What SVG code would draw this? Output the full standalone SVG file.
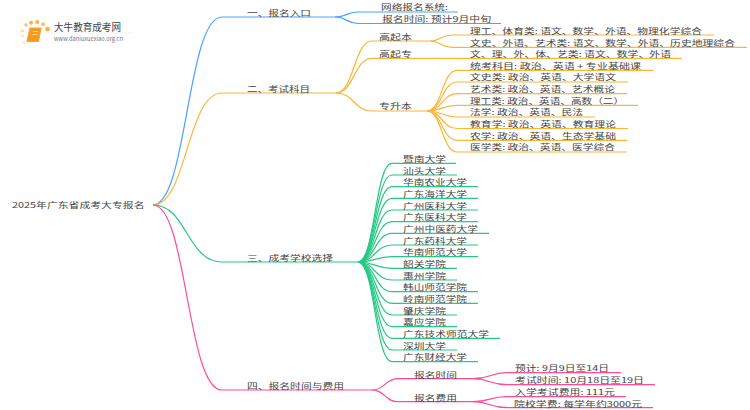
<svg xmlns="http://www.w3.org/2000/svg" width="750" height="410" viewBox="0 0 750 410">
<style>
text{font-family:"Noto Sans CJK SC","Noto Sans",sans-serif;font-size:8px;fill:#444}
path{fill:none;stroke-width:1.2}
.b{stroke:#4aa3ff}.o{stroke:#fdb535}.g{stroke:#25c985}.p{stroke:#ff4a97}
</style>
<g id="logo">
<circle cx="26" cy="25" r="1.7" fill="#fbc46a"/><circle cx="31" cy="22.7" r="2" fill="#f9b23c"/><circle cx="37.300" cy="22" r="2" fill="#f9b23c"/><circle cx="43" cy="24.300" r="2" fill="#fbc46a"/><circle cx="47.500" cy="29" r="2.300" fill="#f9b23c"/><circle cx="22.500" cy="31" r="1.300" fill="#fbd089"/><circle cx="22.700" cy="36" r="1.100" fill="#fbd089"/><circle cx="24" cy="42.500" r="0.900" fill="#fbd089"/>
<path d="M30 28H41L38.500 41.500H27Z" style="fill:#f59a1e;stroke:#f5a838"/>
<path d="M33 31.500H38M32.500 34.500H37.500" style="stroke:#ffe2a8;stroke-width:0.800"/>
<path d="M45 33H133" style="stroke:#eeeeee;stroke-width:0.800"/>
<text x="54" y="31" textLength="67" lengthAdjust="spacingAndGlyphs" style="font-size:10px">大牛教育成考网</text>
<text x="54" y="41" textLength="69" lengthAdjust="spacingAndGlyphs" style="font-size:6px;fill:#777">www.daniuxuexiao.org.cn</text>
</g>
<g id="connectors">
<path class="b" d="M153 205C187 205 187 17 222 17H335C347 17 347 12 358 12H458"/>
<path class="b" d="M335 17C347 17 347 23.500 358 23.500H501"/>
<path class="o" d="M153 205C187 205 187 93 222 93H336C354 93 354 41 372 41H430C441 41 441 35 452 35H714"/>
<path class="o" d="M430 41C441 41 441 47.300 452 47.300H747"/>
<path class="o" d="M336 93C354 93 354 58.300 372 58.300H682"/>
<path class="o" d="M336 93C354 93 354 111 372 111H427C442 111 442 70.300 457 70.300H653"/>
<path class="o" d="M427 111C442 111 442 82 457 82H628"/>
<path class="o" d="M427 111C442 111 442 93.700 457 93.700H627"/>
<path class="o" d="M427 111C442 111 442 105.300 457 105.300H638"/>
<path class="o" d="M427 111C442 111 442 117 457 117H595"/>
<path class="o" d="M427 111C442 111 442 128.500 457 128.500H628"/>
<path class="o" d="M427 111C442 111 442 140.300 457 140.300H627"/>
<path class="o" d="M427 111C442 111 442 152 457 152H627"/>
<path class="g" d="M153 205C187 205 187 262 222 262H358C375 262 375 163.300 392 163.300H456"/>
<path class="g" d="M358 262C375 262 375 175 392 175H457"/>
<path class="g" d="M358 262C375 262 375 186.700 392 186.700H478"/>
<path class="g" d="M358 262C375 262 375 198.300 392 198.300H478"/>
<path class="g" d="M358 262C375 262 375 210 392 210H478"/>
<path class="g" d="M358 262C375 262 375 221.700 392 221.700H478"/>
<path class="g" d="M358 262C375 262 375 233.300 392 233.300H489"/>
<path class="g" d="M358 262C375 262 375 245 392 245H478"/>
<path class="g" d="M358 262C375 262 375 256.700 392 256.700H478"/>
<path class="g" d="M358 262C375 262 375 268.300 392 268.300H457"/>
<path class="g" d="M358 262C375 262 375 280 392 280H457"/>
<path class="g" d="M358 262C375 262 375 291.700 392 291.700H478"/>
<path class="g" d="M358 262C375 262 375 303.300 392 303.300H478"/>
<path class="g" d="M358 262C375 262 375 315 392 315H457"/>
<path class="g" d="M358 262C375 262 375 326.700 392 326.700H457"/>
<path class="g" d="M358 262C375 262 375 338.300 392 338.300H500"/>
<path class="g" d="M358 262C375 262 375 350 392 350H457"/>
<path class="g" d="M358 262C375 262 375 361.700 392 361.700H478"/>
<path class="p" d="M153 205C187 205 187 390 222 390H372C385 390 385 378.700 398 378.700H473C490 378.700 490 372.700 507 372.700H621"/>
<path class="p" d="M473 378.700C490 378.700 490 384.700 507 384.700H655"/>
<path class="p" d="M372 390C385 390 385 401.700 398 401.700H473C490 401.700 490 396.700 507 396.700H626"/>
<path class="p" d="M473 401.700C490 401.700 490 407.700 507 407.700H653"/>
</g>
<g id="root"><text x="12" y="208" textLength="132.500" lengthAdjust="spacingAndGlyphs">2025年广东省成考大专报名</text></g>
<g id="n1"><text x="247" y="16" textLength="64" lengthAdjust="spacingAndGlyphs">一、报名入口</text></g>
<g id="n1-1"><text x="381" y="10" textLength="67" lengthAdjust="spacingAndGlyphs">网络报名系统:</text></g>
<g id="n1-2"><text x="382" y="22" textLength="109" lengthAdjust="spacingAndGlyphs">报名时间: 预计9月中旬</text></g>
<g id="n2"><text x="247" y="92" textLength="63" lengthAdjust="spacingAndGlyphs">二、考试科目</text></g>
<g id="n2-1"><text x="379" y="40" textLength="33" lengthAdjust="spacingAndGlyphs">高起本</text></g>
<g id="n2-1-1"><text x="470" y="34" textLength="232" lengthAdjust="spacingAndGlyphs">理工、体育类: 语文、数学、外语、物理化学综合</text></g>
<g id="n2-1-2"><text x="470" y="46" textLength="265" lengthAdjust="spacingAndGlyphs">文史、外语、艺术类: 语文、数学、外语、历史地理综合</text></g>
<g id="n2-2"><text x="379" y="57" textLength="33" lengthAdjust="spacingAndGlyphs">高起专</text></g>
<g id="n2-2-1"><text x="470" y="57" textLength="201" lengthAdjust="spacingAndGlyphs">文、理、外、体、艺类: 语文、数学、外语</text></g>
<g id="n2-3"><text x="379" y="109" textLength="33" lengthAdjust="spacingAndGlyphs">专升本</text></g>
<g id="n2-3-1"><text x="470" y="68.500" textLength="171" lengthAdjust="spacingAndGlyphs">统考科目: 政治、英语 + 专业基础课</text></g>
<g id="n2-3-2"><text x="470" y="80" textLength="146" lengthAdjust="spacingAndGlyphs">文史类: 政治、英语、大学语文</text></g>
<g id="n2-3-3"><text x="470" y="92" textLength="145" lengthAdjust="spacingAndGlyphs">艺术类: 政治、英语、艺术概论</text></g>
<g id="n2-3-4"><text x="470" y="103.700" textLength="154" lengthAdjust="spacingAndGlyphs">理工类: 政治、英语、高数（二）</text></g>
<g id="n2-3-5"><text x="470" y="115.300" textLength="113" lengthAdjust="spacingAndGlyphs">法学: 政治、英语、民法</text></g>
<g id="n2-3-6"><text x="470" y="127" textLength="146" lengthAdjust="spacingAndGlyphs">教育学: 政治、英语、教育理论</text></g>
<g id="n2-3-7"><text x="470" y="138.700" textLength="146" lengthAdjust="spacingAndGlyphs">农学: 政治、英语、生态学基础</text></g>
<g id="n2-3-8"><text x="470" y="150.300" textLength="145" lengthAdjust="spacingAndGlyphs">医学类: 政治、英语、医学综合</text></g>
<g id="n3"><text x="247" y="261" textLength="86" lengthAdjust="spacingAndGlyphs">三、成考学校选择</text></g>
<g id="s1"><text x="403" y="162" textLength="43" lengthAdjust="spacingAndGlyphs">暨南大学</text></g>
<g id="s2"><text x="403" y="173.700" textLength="43" lengthAdjust="spacingAndGlyphs">汕头大学</text></g>
<g id="s3"><text x="403" y="185.300" textLength="64" lengthAdjust="spacingAndGlyphs">华南农业大学</text></g>
<g id="s4"><text x="403" y="197" textLength="64" lengthAdjust="spacingAndGlyphs">广东海洋大学</text></g>
<g id="s5"><text x="403" y="208.700" textLength="64" lengthAdjust="spacingAndGlyphs">广州医科大学</text></g>
<g id="s6"><text x="403" y="220.300" textLength="64" lengthAdjust="spacingAndGlyphs">广东医科大学</text></g>
<g id="s7"><text x="403" y="232" textLength="75" lengthAdjust="spacingAndGlyphs">广州中医药大学</text></g>
<g id="s8"><text x="403" y="243.700" textLength="64" lengthAdjust="spacingAndGlyphs">广东药科大学</text></g>
<g id="s9"><text x="403" y="255.300" textLength="64" lengthAdjust="spacingAndGlyphs">华南师范大学</text></g>
<g id="s10"><text x="403" y="267" textLength="43" lengthAdjust="spacingAndGlyphs">韶关学院</text></g>
<g id="s11"><text x="403" y="278.700" textLength="43" lengthAdjust="spacingAndGlyphs">惠州学院</text></g>
<g id="s12"><text x="403" y="290.300" textLength="64" lengthAdjust="spacingAndGlyphs">韩山师范学院</text></g>
<g id="s13"><text x="403" y="302" textLength="64" lengthAdjust="spacingAndGlyphs">岭南师范学院</text></g>
<g id="s14"><text x="403" y="313.700" textLength="43" lengthAdjust="spacingAndGlyphs">肇庆学院</text></g>
<g id="s15"><text x="403" y="325.300" textLength="43" lengthAdjust="spacingAndGlyphs">嘉应学院</text></g>
<g id="s16"><text x="403" y="337" textLength="86" lengthAdjust="spacingAndGlyphs">广东技术师范大学</text></g>
<g id="s17"><text x="403" y="348.700" textLength="43" lengthAdjust="spacingAndGlyphs">深圳大学</text></g>
<g id="s18"><text x="403" y="360.300" textLength="64" lengthAdjust="spacingAndGlyphs">广东财经大学</text></g>
<g id="n4"><text x="247" y="389" textLength="97" lengthAdjust="spacingAndGlyphs">四、报名时间与费用</text></g>
<g id="n4-1"><text x="414" y="377.500" textLength="43" lengthAdjust="spacingAndGlyphs">报名时间</text></g>
<g id="n4-1-1"><text x="515" y="371" textLength="94" lengthAdjust="spacingAndGlyphs">预计: 9月9日至14日</text></g>
<g id="n4-1-2"><text x="515" y="383" textLength="129" lengthAdjust="spacingAndGlyphs">考试时间: 10月18日至19日</text></g>
<g id="n4-2"><text x="414" y="400.500" textLength="43" lengthAdjust="spacingAndGlyphs">报名费用</text></g>
<g id="n4-2-1"><text x="515" y="395" textLength="100" lengthAdjust="spacingAndGlyphs">入学考试费用: 111元</text></g>
<g id="n4-2-2"><text x="514" y="406.500" textLength="128" lengthAdjust="spacingAndGlyphs">院校学费: 每学年约3000元</text></g>
</svg>
